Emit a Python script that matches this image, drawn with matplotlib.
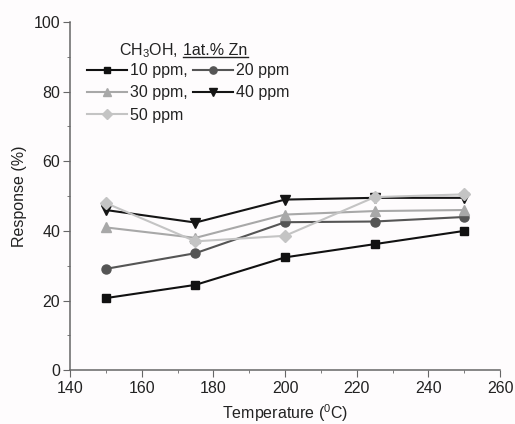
import matplotlib.pyplot as plt
from matplotlib.lines import Line2D
from matplotlib.ticker import MultipleLocator

plt.rcParams['font.family'] = ['Liberation Sans', 'DejaVu Sans']
plt.rcParams['mathtext.fontset'] = 'custom'
plt.rcParams['mathtext.rm'] = 'Liberation Sans'
plt.rcParams['mathtext.it'] = 'Liberation Sans'
plt.rcParams['mathtext.default'] = 'rm'

# Data
temperature = [150, 175, 200, 225, 250]
resp_10ppm = [20.7, 24.5, 32.4, 36.2, 40.0]
resp_20ppm = [29.1, 33.6, 42.5, 42.7, 44.0]
resp_30ppm = [41.0, 38.0, 44.7, 45.7, 46.0]
resp_40ppm = [46.0, 42.4, 49.0, 49.5, 49.5]
resp_50ppm = [48.0, 37.0, 38.6, 49.7, 50.5]

txt = '#222222'
fs = 11.5

fig = plt.figure(figsize=(5.15, 4.24), dpi=100)
fig.patch.set_facecolor('#fefcfd')
ax = fig.add_axes([0.136, 0.127, 0.835, 0.821])
ax.set_facecolor('#fefcfd')

h10, = ax.plot(temperature, resp_10ppm, '-s', color='#111111', ms=6, lw=1.5, label='10 ppm,')
h20, = ax.plot(temperature, resp_20ppm, '-o', color='#555555', ms=6.5, lw=1.5, label='20 ppm')
h30, = ax.plot(temperature, resp_30ppm, '-^', color='#a8a8a8', ms=6.5, lw=1.5, label='30 ppm,')
h40, = ax.plot(temperature, resp_40ppm, '-v', color='#151515', ms=6.5, lw=1.5, label='40 ppm')
h50, = ax.plot(temperature, resp_50ppm, '-D', color='#c4c4c4', ms=6, lw=1.5, label='50 ppm')

ax.set_xlim(140, 260)
ax.set_ylim(0, 100)
ax.xaxis.set_major_locator(MultipleLocator(20))
ax.xaxis.set_minor_locator(MultipleLocator(10))
ax.yaxis.set_major_locator(MultipleLocator(20))
ax.yaxis.set_minor_locator(MultipleLocator(10))
for side in ['top', 'right']:
    ax.spines[side].set_visible(False)
for side in ['left', 'bottom']:
    ax.spines[side].set_color('#666666')
    ax.spines[side].set_linewidth(1.1)
ax.tick_params(which='both', direction='out', colors='#666666', labelcolor=txt, labelsize=fs)
ax.tick_params(which='major', length=5)
ax.tick_params(which='minor', length=2.5)
ax.tick_params(axis='y', pad=2)
ax.tick_params(axis='x', pad=3)

ax.set_xlabel('Temperature ($^{0}$C)', color=txt, fontsize=fs, labelpad=4)
ax.set_ylabel('Response (%)', color=txt, fontsize=fs, labelpad=5)

leg = ax.legend(handles=[h10, h30, h50, h20, h40], ncol=2, loc='upper left',
                bbox_to_anchor=(0.025, 0.9), frameon=False, fontsize=fs,
                handlelength=2.5, handletextpad=0.2, columnspacing=0.3,
                labelspacing=0.45, borderaxespad=0.0, markerscale=0.8)
for t in leg.get_texts():
    t.set_color(txt)

# annotation title with underlined part
t1 = ax.text(0.115, 0.905, 'CH$_3$OH,', transform=ax.transAxes, fontsize=fs, color=txt)
fig.canvas.draw()
r = fig.canvas.get_renderer()
bb = t1.get_window_extent(r)
x0 = ax.transAxes.inverted().transform((bb.x1 + 5, bb.y0))[0]
t2 = ax.text(x0, 0.905, '1at.% Zn', transform=ax.transAxes, fontsize=fs, color=txt)
bb2 = t2.get_window_extent(r)
inv = fig.transFigure.inverted()
p0 = inv.transform((bb2.x0, bb2.y0 + 1))
p1 = inv.transform((bb2.x1, bb2.y0 + 1))
fig.add_artist(Line2D([p0[0], p1[0]], [p0[1], p1[1]], transform=fig.transFigure, color=txt, lw=1.0))

fig.savefig('out.png', dpi=100, facecolor=fig.get_facecolor())
